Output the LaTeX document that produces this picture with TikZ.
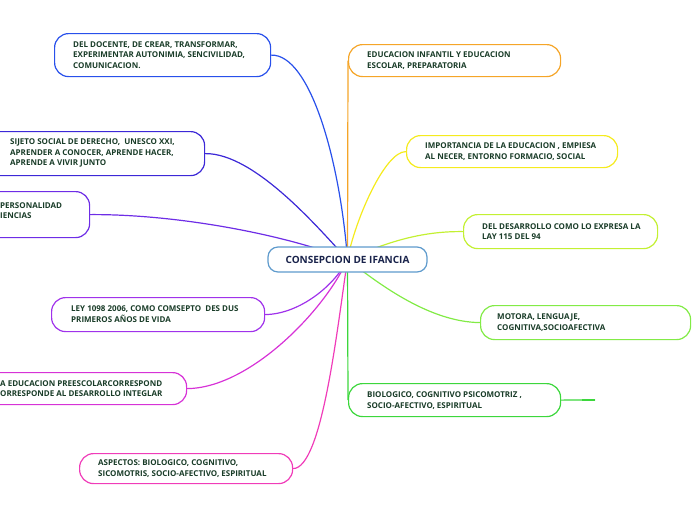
\documentclass[tikz,border=0pt]{standalone}
\usepackage{fontspec}
\setmainfont{Open Sans}
\usetikzlibrary{backgrounds}
\definecolor{cA}{RGB}{40,80,235}
\definecolor{cB}{RGB}{60,40,215}
\definecolor{cC}{RGB}{110,45,230}
\definecolor{cD}{RGB}{160,50,235}
\definecolor{cE}{RGB}{215,50,215}
\definecolor{cF}{RGB}{240,60,185}
\definecolor{rA}{RGB}{245,165,40}
\definecolor{rB}{RGB}{245,235,30}
\definecolor{rC}{RGB}{195,240,50}
\definecolor{rD}{RGB}{130,235,70}
\definecolor{rE}{RGB}{60,215,60}
\definecolor{cb}{RGB}{95,155,205}
\definecolor{txtc}{RGB}{25,60,40}
\definecolor{navy}{RGB}{25,35,75}
\begin{document}
\begin{tikzpicture}[x=1pt,y=-1pt,
  box/.style={draw=#1, fill=white, rounded corners=14pt, line width=1.2pt, inner sep=0pt, anchor=north west},
  txt/.style={anchor=west, align=left, inner sep=0pt, text=txtc, font=\fontsize{8}{10.7}\selectfont\bfseries},
  link/.style={draw=#1, line width=1.2pt}]
\useasboundingbox (0,0) rectangle (696,520);
% central
\node[draw=cb, fill=white, rounded corners=10pt, line width=1.2pt, minimum width=159, minimum height=25,
  font=\fontsize{10}{12}\selectfont\bfseries, text=navy] (cn) at (347.5,259.5) {CONSEPCION DE IFANCIA};
% left boxes
\node[box=cA, minimum width=216, minimum height=43] (n1) at (54,33) {};
\node[txt] (n1t) at (73,55) {DEL DOCENTE, DE CREAR, TRANSFORMAR,\\EXPERIMENTAR AUTONIMIA, SENCIVILIDAD,\\COMUNICACION.};
\node[box=cB, minimum width=224, minimum height=44] (n2) at (-20,131) {};
\node[txt] (n2t) at (10,153) {SIJETO SOCIAL DE DERECHO,\ \ UNESCO XXI,\\APRENDER A CONOCER, APRENDE HACER,\\APRENDE A VIVIR JUNTO};
\node[box=cC, minimum width=210, minimum height=46] (n3) at (-121,191) {};
\node[txt] (n3t) at (0,210.5) {PERSONALIDAD\\IENCIAS};
\node[box=cD, minimum width=213, minimum height=34] (n4) at (51,297) {};
\node[txt] (n4t) at (71,314) {LEY 1098 2006, COMO COMSEPTO\ \ DES DUS\\PRIMEROS AÑOS DE VIDA};
\node[box=cE, minimum width=246, minimum height=32] (n5) at (-60,372) {};
\node[txt] (n5t) at (0,388.5) {A EDUCACION PREESCOLARCORRESPOND\\ORRESPONDE AL DESARROLLO INTEGLAR};
\node[box=cF, minimum width=213, minimum height=30] (n6) at (79,453) {};
\node[txt] (n6t) at (98,468.5) {ASPECTOS: BIOLOGICO, COGNITIVO,\\SICOMOTRIS, SOCIO-AFECTIVO, ESPIRITUAL};
% right boxes
\node[box=rA, minimum width=212, minimum height=32] (r1) at (348,44) {};
\node[txt] (r1t) at (367,60.5) {EDUCACION INFANTIL Y EDUCACION\\ESCOLAR, PREPARATORIA};
\node[box=rB, minimum width=211, minimum height=32] (r2) at (406,135) {};
\node[txt] (r2t) at (425,151.5) {IMPORTANCIA DE LA EDUCACION , EMPIESA\\AL NECER, ENTORNO FORMACIO, SOCIAL};
\node[box=rC, minimum width=194, minimum height=34] (r3) at (463,214) {};
\node[txt] (r3t) at (482,231.5) {DEL DESARROLLO COMO LO EXPRESA LA\\LAY 115 DEL 94};
\node[box=rD, minimum width=210, minimum height=34] (r4) at (480,305) {};
\node[txt] (r4t) at (497,322.5) {MOTORA, LENGUAJE,\\COGNITIVA,SOCIOAFECTIVA};
\node[box=rE, minimum width=212, minimum height=33] (r5) at (348,383) {};
\node[txt] (r5t) at (367,400.5) {BIOLOGICO, COGNITIVO PSICOMOTRIZ ,\\SOCIO-AFECTIVO, ESPIRITUAL};
\coordinate (r5k) at (582,400);
\coordinate (r5end) at (595,400);
% connectors
\begin{scope}[on background layer]
\draw[link=cA] (n1.east) .. controls (310,54) and (340,160) .. (cn.center);
\draw[link=cB] (n2.east) .. controls (255,153) and (320,230) .. (cn.center);
\draw[link=cC] (n3.east) .. controls (180,214) and (290,236) .. (cn.center);
\draw[link=cD] (n4.east) .. controls (300,314) and (335,285) .. (cn.center);
\draw[link=cE] (n5.east) .. controls (250,388) and (325,310) .. (cn.center);
\draw[link=cF] (n6.east) .. controls (322,468) and (337,330) .. (cn.center);
\draw[link=rA] (r1.west) -- (cn.center);
\draw[link=rB] (r2.west) .. controls (385,151) and (355,220) .. (cn.center);
\draw[link=rC] (r3.west) .. controls (420,231) and (385,243) .. (cn.center);
\draw[link=rD] (r4.west) .. controls (430,322) and (380,285) .. (cn.center);
\draw[link=rE] (r5.west) -- (cn.center);
\end{scope}
\draw[link=rE] (r5.east) -- (r5end);
\draw[rE, line width=2pt] (r5k) -- (r5end);
\end{tikzpicture}
\end{document}
